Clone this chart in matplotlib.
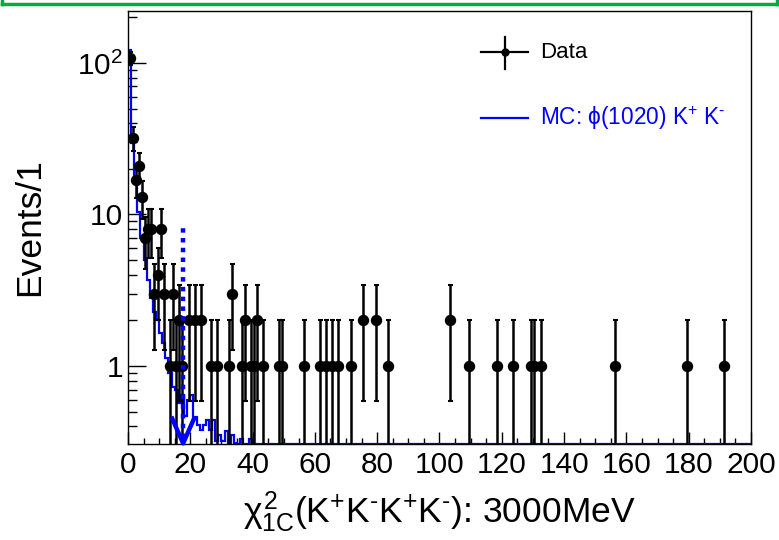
import numpy as np
import matplotlib
matplotlib.use("Agg")
import matplotlib.pyplot as plt
from matplotlib.lines import Line2D

plt.rcParams["font.family"] = ["Liberation Sans", "DejaVu Sans"]
plt.rcParams["mathtext.fontset"] = "custom"
plt.rcParams["mathtext.rm"] = "Liberation Sans"
plt.rcParams["mathtext.it"] = "Liberation Sans"
plt.rcParams["mathtext.bf"] = "Liberation Sans:bold"

# data: bin lower edge (width 1) -> events
DATA_BINS = [0, 1, 2, 3, 4, 5, 6, 7, 8, 9, 10, 11, 13, 14, 15, 16, 17, 19, 21, 23,
             26, 28, 32, 33, 36, 37, 39, 40, 41, 43, 48, 49, 56, 61, 63, 65, 67, 71,
             75, 79, 83, 103, 109, 118, 123, 129, 130, 132, 156, 179, 191]
DATA_COUNTS = [107, 32, 17, 21, 13, 7, 8, 8, 3, 4, 8, 3, 1, 3, 1, 2, 1, 2, 2, 2,
               1, 1, 1, 3, 1, 2, 1, 1, 2, 1, 1, 1, 1, 1, 1, 1, 1, 1,
               2, 2, 1, 2, 1, 1, 1, 1, 1, 1, 1, 1, 1]

# MC histogram, bins of width 1 starting at 0
MC_VALUES = [122, 29.6, 16.9, 10.4, 7.0, 5.0, 3.7, 2.8, 2.28, 2.0,
             1.65, 1.42, 1.13, 0.90, 0.73, 0.69, 0.57, 0.64, 0.47, 0.60,
             0.64, 0.46, 0.41, 0.38, 0.41, 0.44, 0.38, 0.44, 0.32, 0.35,
             0.32, 0.37, 0.31, 0.35, 0.31, 0.0, 0.33, 0.0, 0.0, 0.33]

CUT_X = 17.7
CUT_TOP = 8.2
Y_MIN, Y_MAX = 0.306, 220.0
BLUE = "#0000ff"

W, H = 779, 540
fig = plt.figure(figsize=(W / 100, H / 100), dpi=100)
ax = fig.add_axes([0.1643, 0.1778, 0.7997, 0.8018])

# MC step histogram
mc = np.array(MC_VALUES, dtype=float)
mc_full = np.concatenate([mc, np.zeros(200 - len(mc))])
edges = np.arange(0, 201)
mc_plot = np.maximum(mc_full, Y_MIN * 1.005)
ax.stairs(mc_plot, edges, color=BLUE, linewidth=1.6, baseline=None, zorder=2)

# data points with sqrt(N) errors
x = np.array(DATA_BINS) + 0.5
y = np.array(DATA_COUNTS, dtype=float)
err = np.sqrt(y)
low = y - np.maximum(y - err, 1e-3)
ax.errorbar(x, y, yerr=[low, err], xerr=0.5, fmt="o", color="black", markersize=7.2,
            elinewidth=1.8, capsize=1.8, capthick=1.5, zorder=3)

# cut arrow
ax.plot([CUT_X, CUT_X], [Y_MIN * 1.1, CUT_TOP], color=BLUE, linewidth=3.2,
        linestyle=(0, (1, 1.2)), solid_capstyle="butt", zorder=4)
ax.plot([CUT_X - 3.5, CUT_X, CUT_X + 3.5], [0.45, Y_MIN * 1.01, 0.45],
        color=BLUE, linewidth=3.2, zorder=4, clip_on=False)

ax.set_yscale("log")
ax.set_xlim(0, 200)
ax.set_ylim(Y_MIN, Y_MAX)
ax.set_xticks(np.arange(0, 201, 20))
ax.set_xticks(np.arange(0, 201, 5), minor=True)
ax.set_yticks([1, 10, 100])
ax.set_yticklabels(["1", "10", r"$10^{2}$"])
ax.tick_params(axis="both", which="major", direction="in", labelsize=21.5,
               top=False, right=False, width=1.0)
ax.tick_params(axis="y", which="major", length=13)
ax.tick_params(axis="y", which="minor", direction="in", length=6.5, width=1.0,
               right=False, labelleft=False)
ax.tick_params(axis="x", which="major", length=9, pad=5)
ax.tick_params(axis="x", which="minor", direction="in", length=4.5, width=1.0, top=False)
for sp in ax.spines.values():
    sp.set_linewidth(1.0)

ax.set_ylabel("Events/1", fontsize=25.5, labelpad=22)
ax.set_xlabel(r"$\chi^{2}_{1C}$(K$^{+}$K$^{\text{-}}$K$^{+}$K$^{\text{-}}$): 3000MeV",
              fontsize=25.5, labelpad=7)


def px(xp, yp):
    return xp / W, 1 - yp / H


# legend drawn by hand, ROOT style
for xs, ys, kw in [
    ([481, 528], [52, 52], dict(color="black", linewidth=1.6)),
    ([505, 505], [37, 69], dict(color="black", linewidth=1.6)),
    ([481, 528], [118, 118], dict(color=BLUE, linewidth=1.6)),
]:
    p0, p1 = px(xs[0], ys[0]), px(xs[1], ys[1])
    fig.add_artist(Line2D([p0[0], p1[0]], [p0[1], p1[1]], transform=fig.transFigure, **kw))
mx, my = px(505, 52)
fig.add_artist(Line2D([mx], [my], marker="o", markersize=5, color="black",
                      transform=fig.transFigure))
tx, ty = px(540, 52)
fig.text(tx, ty, "Data", fontsize=16, va="center", ha="left")
tx, ty = px(540, 118)
fig.text(tx, ty, r"MC: $\phi$(1020) K$^{+}$ K$^{\text{-}}$", fontsize=16.3, va="center",
         ha="left", color=BLUE)

# green frame at top of canvas
green = "#00aa44"
fig.add_artist(Line2D([0.003, 0.997], [0.993, 0.993], transform=fig.transFigure,
                      color=green, linewidth=2.5))
fig.add_artist(Line2D([0.003, 0.003], [0.993, 1.0], transform=fig.transFigure,
                      color=green, linewidth=2.5))
fig.add_artist(Line2D([0.997, 0.997], [0.993, 1.0], transform=fig.transFigure,
                      color=green, linewidth=2.5))

fig.savefig("out.png", dpi=100)
